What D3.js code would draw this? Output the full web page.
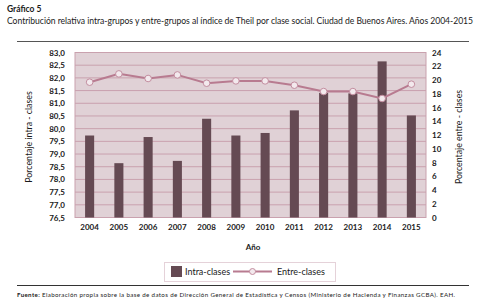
<!DOCTYPE html>
<html>
<head>
<meta charset="utf-8">
<script src="https://cdn.jsdelivr.net/npm/d3@7"></script>
<style>
  body { margin: 0; background: #fff; }
  svg text { font-family: Lato, "Open Sans", sans-serif; fill: #1a1a1a; }
</style>
</head>
<body>
<div id="chart"></div>
<script>
// data
const years = ["2004", "2005", "2006", "2007", "2008", "2009", "2010", "2011", "2012", "2013", "2014", "2015"];
const intraClases = [79.73, 78.64, 79.67, 78.73, 80.39, 79.73, 79.83, 80.72, 81.41, 81.39, 82.65, 80.52];
const entreClases = [19.68, 20.89, 20.22, 20.74, 19.53, 19.87, 19.87, 19.24, 18.32, 18.32, 17.31, 19.39];
const leftTicks = d3.range(76.5, 83.01, 0.5);
const rightTicks = d3.range(0, 24.1, 2);

const W = 478, H = 306;
const plot = { left: 75, right: 426, top: 52.5, bottom: 217.5 };

const svg = d3.select("#chart").append("svg")
    .attr("width", W)
    .attr("height", H);

// header
svg.append("text").attr("x", 7).attr("y", 12)
    .style("font-size", "8.5px").style("font-weight", "bold")
    .text("Gráfico 5");
svg.append("text").attr("x", 7).attr("y", 24)
    .style("font-size", "8.6px")
    .attr("textLength", 466)
    .text("Contribución relativa intra-grupos y entre-grupos al índice de Theil por clase social. Ciudad de Buenos Aires. Años 2004-2015");

svg.append("line")
    .attr("x1", 17).attr("x2", 469).attr("y1", 41.5).attr("y2", 41.5)
    .attr("stroke", "#555").attr("stroke-width", 1);

const x = d3.scaleBand()
    .domain(years)
    .range([plot.left, plot.right])
    .paddingInner(0.69)
    .paddingOuter(0.345);

const yL = d3.scaleLinear().domain([76.5, 83]).range([plot.bottom, plot.top]);
const yR = d3.scaleLinear().domain([0, 24]).range([plot.bottom, plot.top]);

// plot background
svg.append("rect")
    .attr("x", plot.left).attr("y", plot.top)
    .attr("width", plot.right - plot.left).attr("height", plot.bottom - plot.top)
    .attr("fill", "#e0d1d6")
    .attr("stroke", "#c9a1ae").attr("stroke-width", 1);

svg.append("g").selectAll("line")
    .data(leftTicks)
    .enter().append("line")
    .attr("x1", plot.left).attr("x2", plot.right)
    .attr("y1", d => yL(d)).attr("y2", d => yL(d))
    .attr("stroke", "#c9a1ae").attr("stroke-width", 1);

// bars
svg.append("g").selectAll("rect")
    .data(years)
    .enter().append("rect")
    .attr("x", d => x(d))
    .attr("width", x.bandwidth())
    .attr("y", (d, i) => yL(intraClases[i]))
    .attr("height", (d, i) => plot.bottom - yL(intraClases[i]))
    .attr("fill", "#654a53");

// line
const line = d3.line()
    .x((d, i) => x(years[i]) + x.bandwidth() / 2)
    .y(d => yR(d));

svg.append("path")
    .datum(entreClases)
    .attr("fill", "none")
    .attr("stroke", "#b87b90")
    .attr("stroke-width", 2)
    .attr("d", line);

svg.append("g").selectAll("circle")
    .data(entreClases)
    .enter().append("circle")
    .attr("cx", (d, i) => x(years[i]) + x.bandwidth() / 2)
    .attr("cy", d => yR(d))
    .attr("r", 3.3)
    .attr("fill", "#f3e9ed")
    .attr("stroke", "#c38ea0")
    .attr("stroke-width", 1);

// axes
const axL = svg.append("g")
    .attr("transform", `translate(${plot.left},0)`)
    .call(d3.axisLeft(yL).tickValues(leftTicks).tickSize(0).tickPadding(10)
        .tickFormat(d => d3.format(".1f")(d).replace(".", ",")));
const axR = svg.append("g")
    .attr("transform", `translate(${plot.right},0)`)
    .call(d3.axisRight(yR).tickValues(rightTicks).tickSize(0).tickPadding(6));
const axB = svg.append("g")
    .attr("transform", `translate(0,${plot.bottom})`)
    .call(d3.axisBottom(x).tickSize(0).tickPadding(7));

[axL, axR, axB].forEach(a => {
    a.select(".domain").remove();
    a.selectAll("text")
        .style("font-family", "Lato, 'Open Sans', sans-serif")
        .style("font-size", "8px")
        .style("font-weight", "bold")
        .attr("fill", "#1a1a1a");
});

// axis titles
svg.append("text")
    .attr("transform", "translate(32,137) rotate(-90)")
    .attr("text-anchor", "middle")
    .style("font-size", "8.8px")
    .text("Porcentaje intra - clases");
svg.append("text")
    .attr("transform", "translate(462,137) rotate(-90)")
    .attr("text-anchor", "middle")
    .style("font-size", "8.8px")
    .text("Porcentaje  entre - clases");
svg.append("text")
    .attr("x", 253).attr("y", 250)
    .attr("text-anchor", "middle")
    .style("font-size", "8px").style("font-weight", "bold")
    .text("Año");

// legend
const lg = svg.append("g");
lg.append("rect")
    .attr("x", 164.5).attr("y", 262.5).attr("width", 171).attr("height", 19)
    .attr("fill", "#fff").attr("stroke", "#e5d2d9");
lg.append("rect")
    .attr("x", 171).attr("y", 266).attr("width", 11).attr("height", 11)
    .attr("fill", "#654a53");
lg.append("text").attr("x", 185).attr("y", 275)
    .style("font-size", "9px").text("Intra-clases");
lg.append("line")
    .attr("x1", 233).attr("x2", 272).attr("y1", 271.5).attr("y2", 271.5)
    .attr("stroke", "#b87b90").attr("stroke-width", 2);
lg.append("circle")
    .attr("cx", 252.5).attr("cy", 271.5).attr("r", 3)
    .attr("fill", "#f3e9ed").attr("stroke", "#c38ea0");
lg.append("text").attr("x", 277).attr("y", 275)
    .style("font-size", "9px").text("Entre-clases");

// footer
svg.append("line")
    .attr("x1", 17).attr("x2", 469).attr("y1", 285.5).attr("y2", 285.5)
    .attr("stroke", "#333").attr("stroke-width", 1);
svg.append("text").attr("x", 17).attr("y", 297)
    .style("font-size", "6.2px")
    .attr("textLength", 438)
    .html('<tspan style="font-weight:bold">Fuente:</tspan> Elaboración propia sobre la base de datos de Dirección General de Estadística y Censos (Ministerio de Hacienda y Finanzas GCBA). EAH.');
</script>
</body>
</html>
